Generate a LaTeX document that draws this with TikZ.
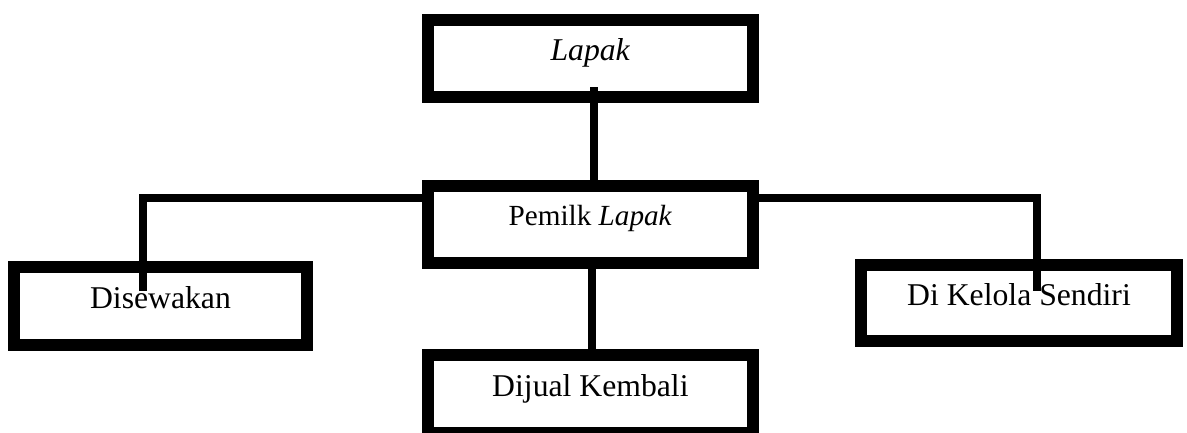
\documentclass[tikz,border=0pt]{standalone}
\usepackage{fontspec}
\setmainfont{Liberation Serif}
\usetikzlibrary{calc}
\tikzset{
  boxnode/.style={draw=black, line width=12pt, fill=white, inner sep=0pt, outer sep=0pt,
    text height=0.7em, text depth=0.25em, font=\fontsize{31.7}{38}\selectfont},
  conn/.style={draw=black, line width=8pt}
}
\begin{document}
\begin{tikzpicture}[x=1pt,y=-1pt]
\useasboundingbox (0,0) rectangle (1187,432);
\node[boxnode, minimum width=324.2pt, minimum height=77.2pt] (lapak) at (590.4,58.1) {\textit{Lapak}};
\node[boxnode, minimum width=324.2pt, minimum height=77.5pt, font=\fontsize{29.2}{35}\selectfont, text depth=0.53em] (pemilik) at (590.4,224.3) {Pemilk \textit{Lapak}};
\node[boxnode, minimum width=293pt, minimum height=78.5pt] (sewa) at (160.5,306.2) {Disewakan};
\node[boxnode, minimum width=316pt, minimum height=76.8pt] (kelola) at (1019,302.9) {Di Kelola Sendiri};
\node[boxnode, minimum width=324.2pt, minimum height=77.5pt] (jual) at (590.4,394) {Dijual Kembali};
\draw[conn] ($(lapak.south)+(4,-9.4)$) -- ($(pemilik.north)+(4,0)$);
\draw[conn] ($(pemilik.north west)+(0,12)$) -| ($(sewa.north)+(-17.5,24)$);
\draw[conn] ($(pemilik.north east)+(0,12)$) -| ($(kelola.north)+(18,26.5)$);
\draw[conn] ($(pemilik.south)+(2,0)$) -- ($(jual.north)+(2,0)$);
\end{tikzpicture}
\end{document}
